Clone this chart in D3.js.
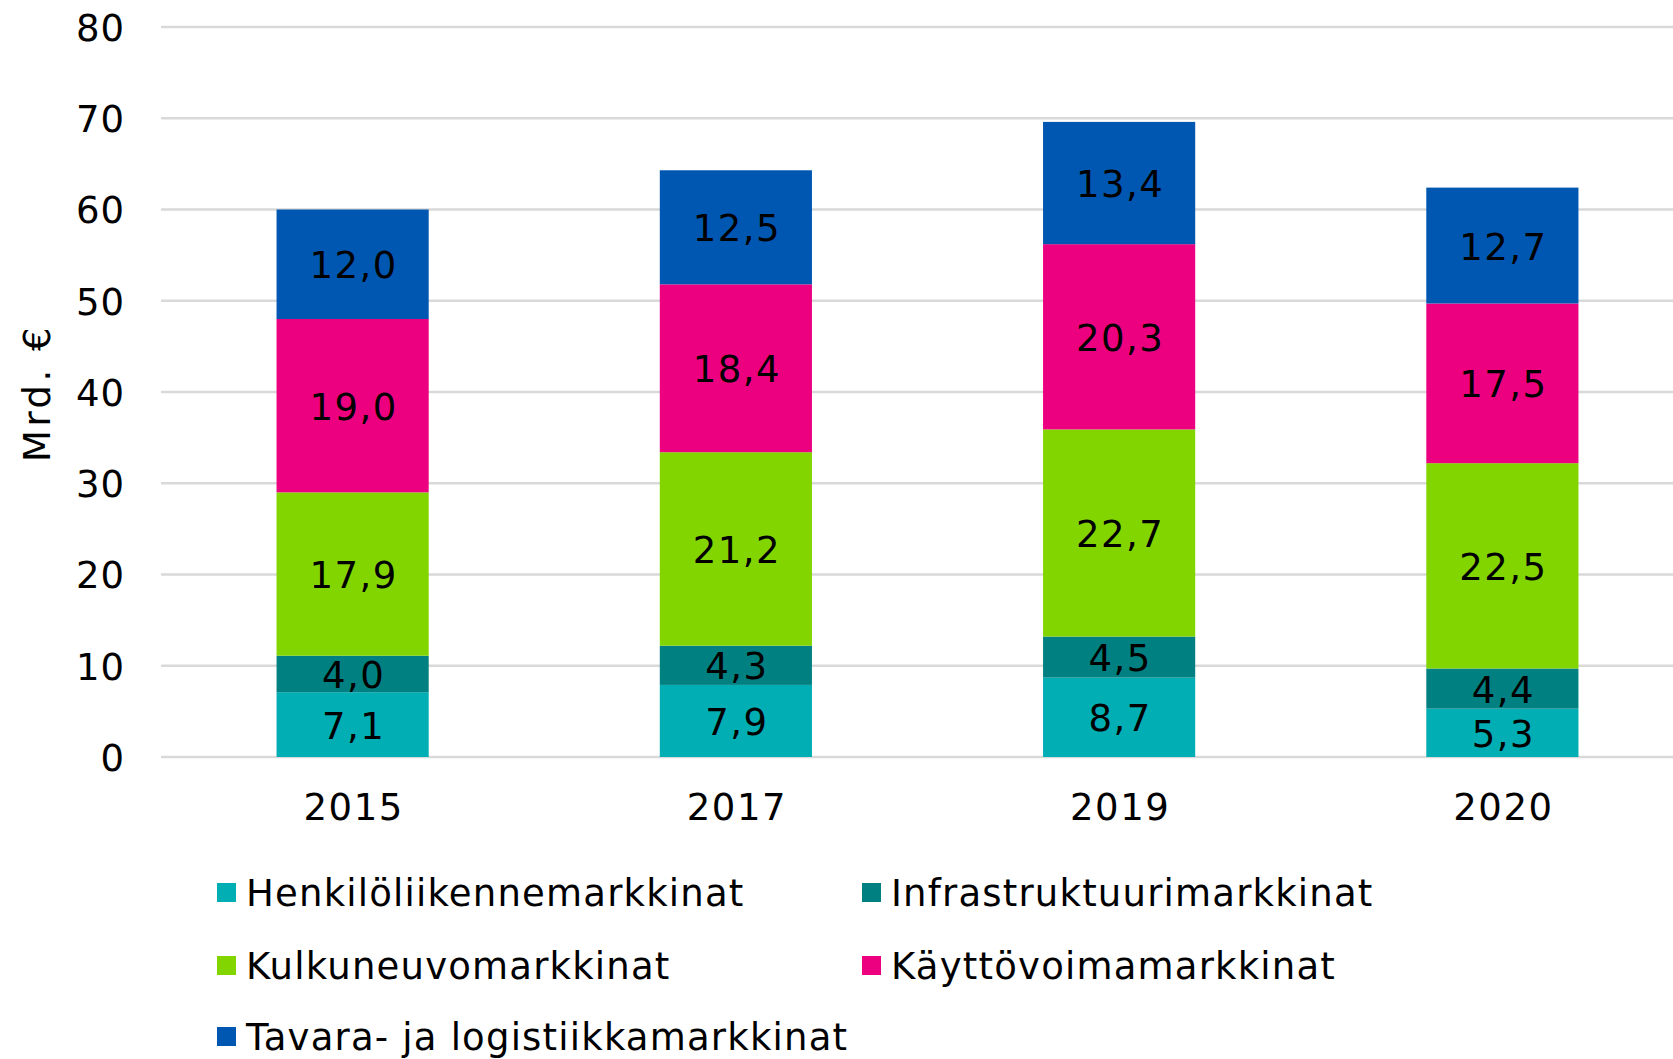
<!DOCTYPE html>
<html>
<head>
<meta charset="utf-8">
<script src="https://cdn.jsdelivr.net/npm/d3@7"></script>
<style>
  body { margin: 0; background: #fff; }
  text { font-family: "DejaVu Sans", Verdana, sans-serif; fill: #000; }
</style>
</head>
<body>
<div id="chart"></div>
<script>
// data
const years = ['2015', '2017', '2019', '2020'];
const seriesNames = ['Henkilöliikennemarkkinat', 'Infrastruktuurimarkkinat', 'Kulkuneuvomarkkinat', 'Käyttövoimamarkkinat', 'Tavara- ja logistiikkamarkkinat'];
const henkilo = [7.1, 7.9, 8.7, 5.3];
const infra = [4.0, 4.3, 4.5, 4.4];
const kulkuneuvo = [17.9, 21.2, 22.7, 22.5];
const kayttovoima = [19.0, 18.4, 20.3, 17.5];
const tavara = [12.0, 12.5, 13.4, 12.7];
const yTicks = [0, 10, 20, 30, 40, 50, 60, 70, 80];
const colors = ['#00aeb4', '#008080', '#83d500', '#ec0080', '#0057b1'];

var width = 1673
    ,height = 1059
    ,margin = { top: 27, left: 161, bottom: 302 }
    ,plotW = 1533
    ,plotH = height - margin.top - margin.bottom;

const rows = years.map((y, i) => ({
    year: y,
    s0: henkilo[i], s1: infra[i], s2: kulkuneuvo[i], s3: kayttovoima[i], s4: tavara[i]
}));
const keys = ['s0', 's1', 's2', 's3', 's4'];
const stacked = d3.stack().keys(keys)(rows);

const svg = d3.select('#chart').append('svg')
    .attr('width', width)
    .attr('height', height);

const g = svg.append('g')
    .attr('transform', 'translate(' + margin.left + ',' + margin.top + ')');

const x = d3.scaleBand()
    .domain(years)
    .range([0, plotW])
    .paddingInner(0.603)
    .paddingOuter(0.3015);

const y = d3.scaleLinear()
    .domain([0, 80])
    .range([plotH, 0]);

// gridlines
g.append('g')
    .selectAll('line')
    .data(yTicks)
    .enter()
    .append('line')
    .attr('x1', 0)
    .attr('x2', plotW)
    .attr('y1', d => y(d))
    .attr('y2', d => y(d))
    .attr('stroke', '#d9d9d9')
    .attr('stroke-width', 2.5);

// y axis
const yAxis = g.append('g')
    .call(d3.axisLeft(y).tickValues(yTicks).tickSize(0).tickPadding(36));
yAxis.select('.domain').remove();
yAxis.selectAll('text')
    .style('font-size', '37px')
    .style('letter-spacing', '1px')
    .attr('dy', '0.36em');

// x axis
const xAxis = g.append('g')
    .attr('transform', 'translate(0,' + plotH + ')')
    .call(d3.axisBottom(x).tickSize(0).tickPadding(37));
xAxis.select('.domain').remove();
xAxis.selectAll('text')
    .attr('dx', '1px')
    .style('font-size', '37px')
    .style('letter-spacing', '1.5px');

// y title
svg.append('text')
    .attr('transform', 'translate(50,393) rotate(-90)')
    .attr('text-anchor', 'middle')
    .style('font-size', '37px')
    .style('letter-spacing', '3.5px')
    .text('Mrd. €');

// bars
const layer = g.selectAll('.layer')
    .data(stacked)
    .enter()
    .append('g')
    .attr('class', 'layer')
    .attr('fill', (d, i) => colors[i]);

layer.selectAll('rect')
    .data(d => d)
    .enter()
    .append('rect')
    .attr('x', d => x(d.data.year))
    .attr('width', x.bandwidth())
    .attr('y', d => y(d[1]))
    .attr('height', d => y(d[0]) - y(d[1]));

// labels
layer.selectAll('.lbl')
    .data(d => d)
    .enter()
    .append('text')
    .attr('class', 'lbl')
    .attr('x', d => x(d.data.year) + x.bandwidth() / 2 + 1)
    .attr('y', d => y((d[0] + d[1]) / 2))
    .attr('dy', '0.38em')
    .attr('text-anchor', 'middle')
    .style('font-size', '37px')
    .style('letter-spacing', '1.5px')
    .text(d => d3.format('.1f')(d[1] - d[0]).replace('.', ','));

// legend
const legendPos = [[217, 893], [862, 893], [217, 966], [862, 966], [217, 1037]];
const legend = svg.append('g')
    .selectAll('g')
    .data(seriesNames)
    .enter()
    .append('g')
    .attr('transform', (d, i) => 'translate(' + legendPos[i][0] + ',' + legendPos[i][1] + ')');

legend.append('rect')
    .attr('x', 0)
    .attr('y', -10)
    .attr('width', 19)
    .attr('height', 19)
    .attr('fill', (d, i) => colors[i]);

legend.append('text')
    .attr('x', 29)
    .attr('dy', '0.36em')
    .style('font-size', '37px')
    .style('letter-spacing', '1.2px')
    .text(d => d);
</script>
</body>
</html>
